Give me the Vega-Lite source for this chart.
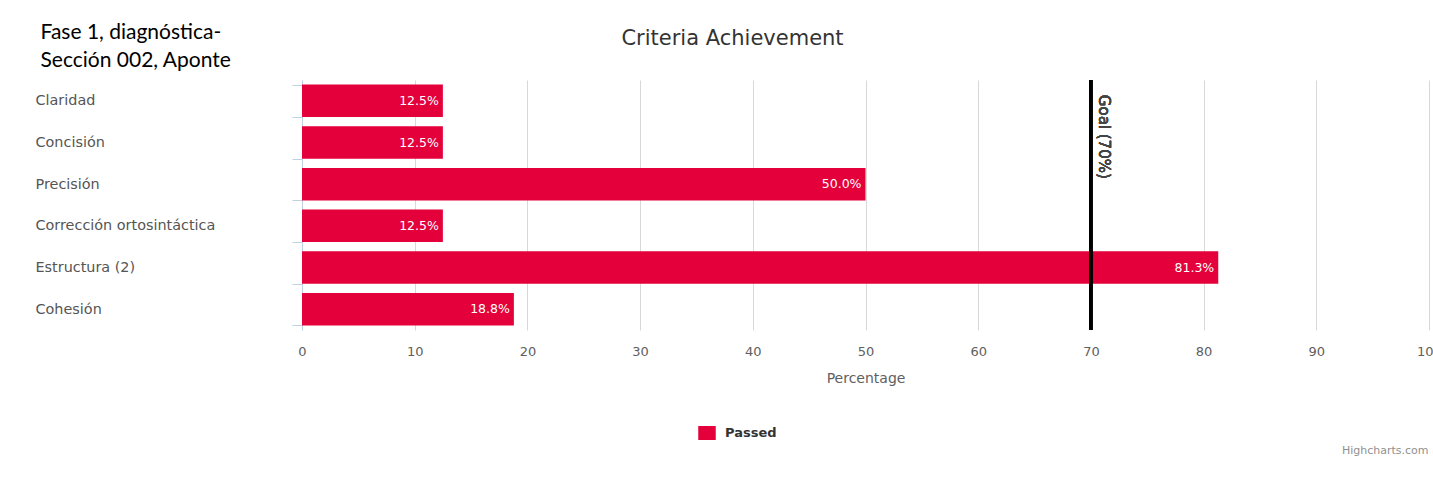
{
  "$schema": "https://vega.github.io/schema/vega-lite/v6.json",
  "width": 1127,
  "height": 250,
  "autosize": {"type": "none"},
  "padding": {"left": 302, "top": 80, "right": 4, "bottom": 151},
  "background": "white",
  "config": {
    "view": {"stroke": null},
    "font": "DejaVu Sans"
  },
  "data": {
    "values": [
      {"criterion": "Claridad", "value": 12.5, "label": "12.5%", "series": "Passed"},
      {"criterion": "Concisión", "value": 12.5, "label": "12.5%", "series": "Passed"},
      {"criterion": "Precisión", "value": 50.0, "label": "50.0%", "series": "Passed"},
      {"criterion": "Corrección ortosintáctica", "value": 12.5, "label": "12.5%", "series": "Passed"},
      {"criterion": "Estructura (2)", "value": 81.3, "label": "81.3%", "series": "Passed"},
      {"criterion": "Cohesión", "value": 18.8, "label": "18.8%", "series": "Passed"}
    ]
  },
  "resolve": {"axis": {"x": "independent", "y": "independent"}},
  "layer": [
    {
      "mark": {"type": "bar"},
      "encoding": {
        "x": {
          "field": "value", "type": "quantitative",
          "scale": {"domain": [0, 100], "nice": false},
          "axis": {
            "orient": "bottom",
            "title": "Percentage",
            "values": [0, 10, 20, 30, 40, 50, 60, 70, 80, 90, 100],
            "grid": true, "gridColor": "#D8D8D8", "gridWidth": 1,
            "domain": false, "ticks": false, "tickSize": 0,
            "labelPadding": 15, "labelFontSize": 13, "labelColor": "#606060",
            "labelFlush": false, "labelOverlap": false,
            "titleFontSize": 14, "titleColor": "#606060", "titleFontWeight": "normal",
            "titlePadding": 13
          }
        },
        "y": {
          "field": "criterion", "type": "nominal", "sort": null,
          "scale": {"paddingInner": 0.22, "paddingOuter": 0.11},
          "axis": {
            "orient": "left",
            "title": ["Fase 1, diagnóstica-", "Sección 002, Aponte"],
            "titleFont": "Lato", "titleFontSize": 21, "titleFontWeight": "normal",
            "titleColor": "#000000", "titleAngle": 0, "titleAlign": "left",
            "titleBaseline": "alphabetic", "titleLineHeight": 28,
            "titleX": -262, "titleY": -42,
            "labelAlign": "left", "labelPadding": 257, "labelFontSize": 14.4,
            "labelColor": "#555555",
            "tickSize": 10, "tickColor": "#C0D0E0", "tickBand": "extent",
            "domainColor": "#C0D0E0", "grid": false
          }
        },
        "color": {
          "field": "series", "type": "nominal",
          "scale": {"range": ["#E4003A"]},
          "legend": {
            "orient": "none", "legendX": 398, "legendY": 346,
            "title": null, "padding": 0,
            "symbolType": "M-1.25,-1H1.25V1H-1.25Z", "symbolSize": 196,
            "symbolStrokeWidth": 0, "symbolOpacity": 1,
            "labelFontSize": 13, "labelFontWeight": "bold", "labelColor": "#333333",
            "labelOffset": 11
          }
        }
      }
    },
    {
      "mark": {"type": "text", "align": "right", "baseline": "middle", "dx": -4, "color": "white", "fontSize": 12.5},
      "encoding": {
        "x": {"field": "value", "type": "quantitative", "axis": null},
        "y": {"field": "criterion", "type": "nominal", "sort": null, "axis": null},
        "text": {"field": "label"}
      }
    },
    {
      "mark": {"type": "rule", "color": "#000000", "strokeWidth": 3},
      "encoding": {
        "x": {
          "datum": 70, "type": "quantitative",
          "axis": {
            "orient": "top", "title": "Criteria Achievement",
            "labels": false, "ticks": false, "domain": false, "grid": false,
            "titleFontSize": 21, "titleFontWeight": "normal", "titleColor": "#333333",
            "titleX": 430, "titleY": -42, "titleAlign": "center", "titleBaseline": "middle"
          }
        }
      }
    },
    {
      "mark": {"type": "text", "angle": 90, "align": "left", "baseline": "bottom", "dx": -6, "dy": -5, "fontSize": 15, "fontWeight": "normal", "color": "#444444"},
      "encoding": {
        "x": {"datum": 70, "type": "quantitative", "axis": null},
        "y": {
          "datum": "Claridad", "type": "nominal",
          "axis": {
            "orient": "right", "title": "Highcharts.com",
            "labels": false, "ticks": false, "domain": false, "grid": false,
            "titleFontSize": 11, "titleFontWeight": "normal", "titleColor": "#909090",
            "titleAngle": 0, "titleX": -1, "titleY": 370, "titleAlign": "right", "titleBaseline": "middle"
          }
        },
        "text": {"value": "Goal (70%)"}
      }
    }
  ]
}
